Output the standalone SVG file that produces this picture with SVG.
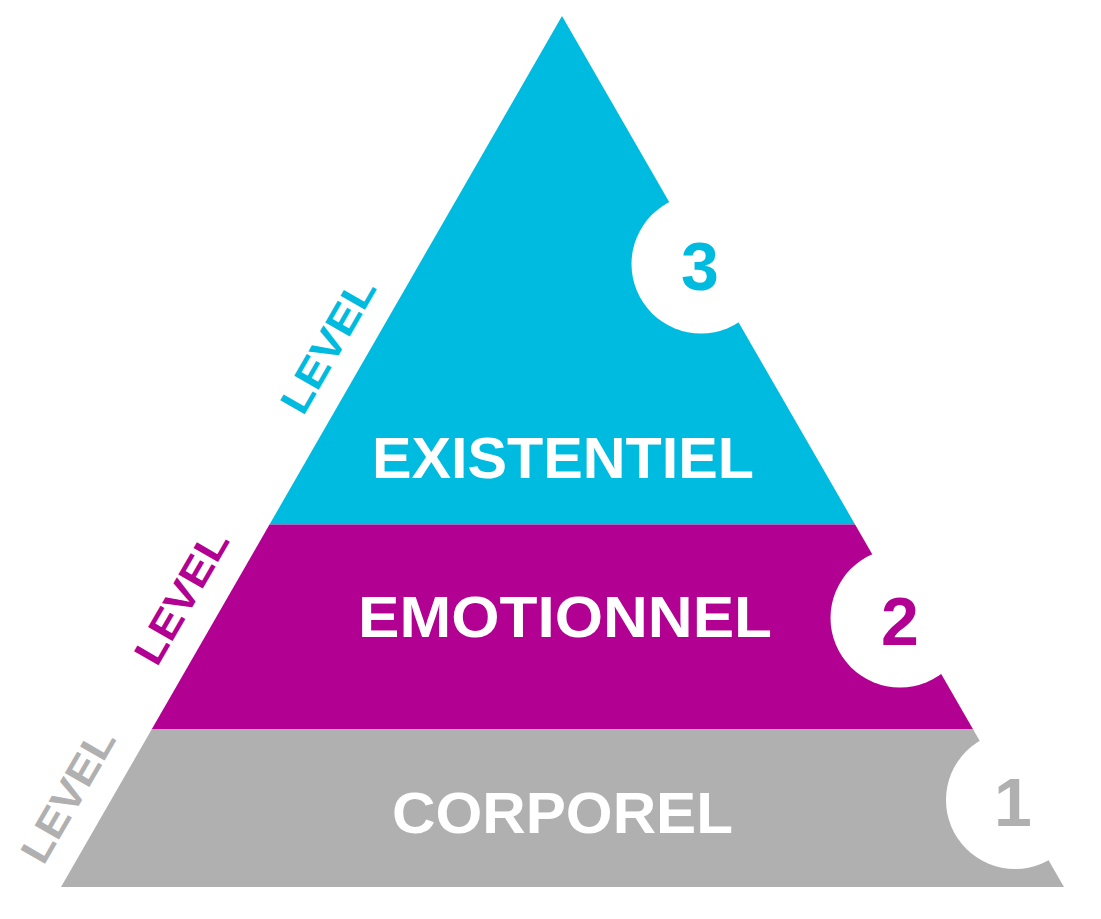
<svg xmlns="http://www.w3.org/2000/svg" width="1101" height="919" viewBox="0 0 1101 919">
<style>
.lbl{font-family:"Liberation Sans",Arial,sans-serif;font-weight:bold;font-size:57px;fill:#ffffff;text-anchor:middle}
.num{font-family:"Liberation Sans",Arial,sans-serif;font-weight:bold;font-size:68px;text-anchor:middle}
.lvl{font-family:"Liberation Sans",Arial,sans-serif;font-weight:bold;font-size:41px}
.cy{fill:#00BBE0}.mg{fill:#B10092}.gr{fill:#B0B0B0}
.hole{fill:#ffffff}
</style>
<rect width="1101" height="919" fill="#ffffff"/>
<g id="level3">
<polygon class="cy" points="562,16 855.1,524.5 269.5,524.5"/>
<text class="lbl" x="563" y="478" textLength="382" lengthAdjust="spacingAndGlyphs">EXISTENTIEL</text>
<circle class="hole" cx="701" cy="264" r="69.5"/>
<text class="num cy" x="700" y="290">3</text>
<text class="lvl cy" transform="translate(303,417) rotate(-60)" textLength="149" lengthAdjust="spacingAndGlyphs">LEVEL</text>
</g>
<g id="level2">
<polygon class="mg" points="269.5,524.5 855.1,524.5 972.9,729 151.9,729"/>
<text class="lbl" x="565" y="637" textLength="414" lengthAdjust="spacingAndGlyphs">EMOTIONNEL</text>
<circle class="hole" cx="900" cy="618" r="69.5"/>
<text class="num mg" x="900" y="645">2</text>
<text class="lvl mg" transform="translate(157,668) rotate(-60)" textLength="147" lengthAdjust="spacingAndGlyphs">LEVEL</text>
</g>
<g id="level1">
<polygon class="gr" points="151.9,729 972.9,729 1064,887 61,887"/>
<text class="lbl" x="562.5" y="833" textLength="341" lengthAdjust="spacingAndGlyphs">CORPOREL</text>
<circle class="hole" cx="1015" cy="800" r="69"/>
<text class="num gr" x="1013" y="826">1</text>
<text class="lvl gr" transform="translate(43.5,866.5) rotate(-60)" textLength="147" lengthAdjust="spacingAndGlyphs">LEVEL</text>
</g>
<g id="connectors"/>
</svg>
